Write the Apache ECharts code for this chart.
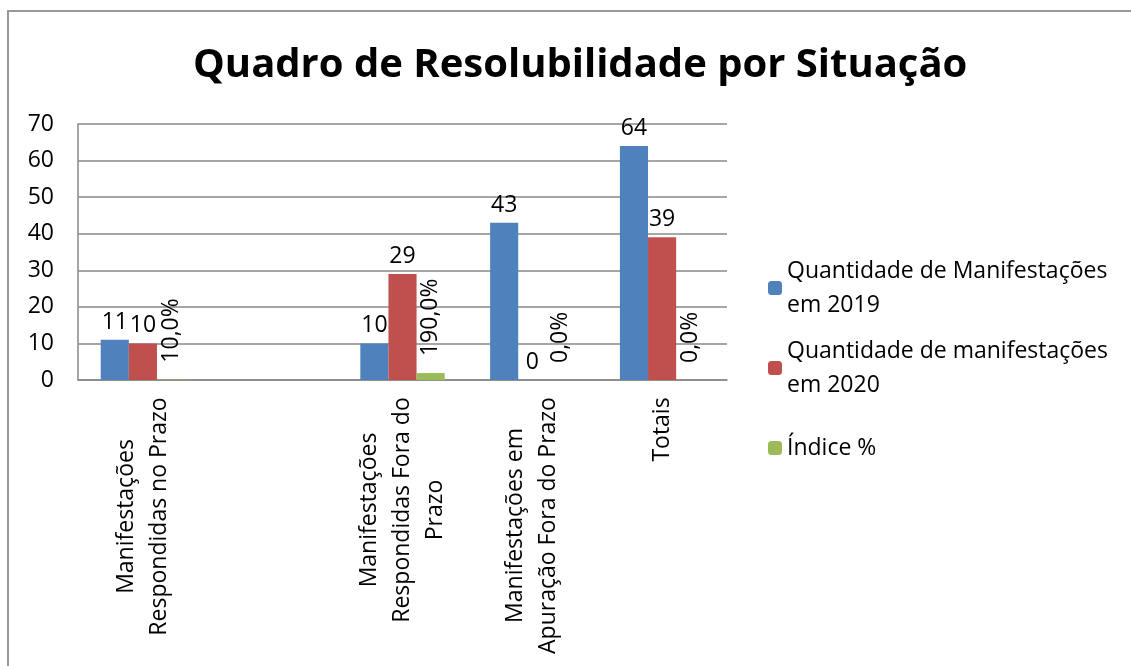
<!DOCTYPE html>
<html>
<head>
<meta charset="utf-8">
<script src="https://cdn.jsdelivr.net/npm/echarts@6/dist/echarts.min.js"></script>
<style>
    html, body { margin: 0; padding: 0; background: #fff; }
    #chart { width: 1131px; height: 666px; }
</style>
</head>
<body>
<div id="chart"></div>
<script>
// categorias (a segunda fica vazia, como no original)
const categories = [
    'Manifestações\nRespondidas no Prazo',
    '',
    'Manifestações\nRespondidas Fora do\nPrazo',
    'Manifestações em\nApuração Fora do Prazo',
    'Totais'
];
const qtd2019 = [11, null, 10, 43, 64];
const qtd2020 = [10, null, 29, 0, 39];
// índice em fração (0.1 = 10,0%)
const indice = [0.1, null, 1.9, 0, 0];
const yTicks = [0, 10, 20, 30, 40, 50, 60, 70];

const names = [
    'Quantidade de Manifestações em 2019',
    'Quantidade de manifestações em 2020',
    'Índice %'
];
const colors = ['#4F81BD', '#C0504D', '#9BBB59'];
const font = 'Open Sans';
const fs = 23;

let mycharts = echarts.init(document.getElementById('chart'));

// largura da linha mais comprida de cada rótulo, para centrar as linhas
const ctx = document.createElement('canvas').getContext('2d');
ctx.font = fs + 'px "' + font + '"';
const catRich = {};
categories.forEach(function (c, i) {
    let w = 0;
    c.split('\n').forEach(function (l) { w = Math.max(w, ctx.measureText(l).width); });
    catRich['c' + i] = {
        width: Math.ceil(w) + 2, align: 'center',
        fontFamily: font, fontSize: fs, lineHeight: 33, color: '#000'
    };
});

const valueLabel = {
    show: true,
    position: 'top',
    distance: 6,
    color: '#000',
    fontFamily: font,
    fontSize: fs
};

// legenda: uma por item, para o quadrado ficar na primeira linha
function legendItem(i, top, twoLines) {
    return {
        orient: 'vertical',
        left: 768,
        top: top,
        padding: 0,
        itemWidth: 14,
        itemHeight: 14,
        selectedMode: false,
        data: [names[i]],
        formatter: function (name) {
            return name.replace(' em ', '\nem ');
        },
        textStyle: {
            color: '#000',
            fontFamily: font,
            fontSize: fs,
            lineHeight: 34,
            padding: twoLines ? [34, 0, 0, 0] : 0
        }
    };
}

mycharts.setOption({
    backgroundColor: '#fff',
    animation: false,
    title: {
        text: 'Quadro de Resolubilidade por Situação',
        left: 188,
        top: 41,
        textStyle: {
            color: '#000',
            fontFamily: font,
            fontWeight: 'bold',
            fontSize: 40
        }
    },
    graphic: [{
        type: 'rect',
        shape: { x: 8, y: 11, width: 1200, height: 700 },
        style: { fill: 'none', stroke: '#999', lineWidth: 2 },
        silent: true
    }],
    legend: [
        legendItem(0, 237, true),
        legendItem(1, 317, true),
        legendItem(2, 431, false)
    ],
    grid: {
        left: 78,
        right: 404,
        top: 124,
        bottom: 286
    },
    xAxis: {
        type: 'category',
        data: categories,
        axisLine: { show: true, lineStyle: { color: '#888', width: 1.5 } },
        axisTick: { show: false },
        axisLabel: {
            rotate: 90,
            margin: 16,
            interval: 0,
            color: '#000',
            fontFamily: font,
            fontSize: fs,
            lineHeight: 33,
            formatter: function (v, i) {
                if (!v) return '';
                return v.split('\n').map(function (l) { return '{c' + i + '|' + l + '}'; }).join('\n');
            },
            rich: catRich
        }
    },
    yAxis: {
        type: 'value',
        min: yTicks[0],
        max: yTicks[yTicks.length - 1],
        interval: 10,
        axisLine: { show: true, lineStyle: { color: '#888', width: 1.5 } },
        axisTick: { show: false },
        splitLine: { show: true, lineStyle: { color: '#888', width: 1.5 } },
        axisLabel: {
            margin: 24,
            color: '#000',
            fontFamily: font,
            fontSize: fs
        }
    },
    series: [
        {
            name: names[0],
            type: 'bar',
            data: qtd2019,
            barGap: '0%',
            barCategoryGap: '35%',
            itemStyle: { color: colors[0] },
            label: valueLabel
        },
        {
            name: names[1],
            type: 'bar',
            data: qtd2020,
            itemStyle: { color: colors[1] },
            label: valueLabel
        },
        {
            name: names[2],
            type: 'bar',
            data: indice,
            itemStyle: { color: colors[2] },
            label: {
                show: true,
                position: 'top',
                distance: 17,
                rotate: 90,
                align: 'left',
                verticalAlign: 'middle',
                color: '#000',
                fontFamily: font,
                fontSize: fs,
                formatter: function (p) {
                    return (p.value * 100).toFixed(1).replace('.', ',') + '%';
                }
            }
        }
    ]
});
</script>
</body>
</html>
